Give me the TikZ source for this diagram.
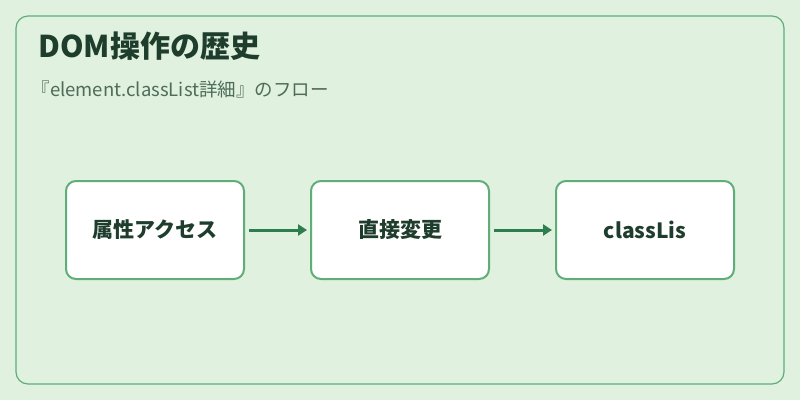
\documentclass[tikz,border=0pt]{standalone}
\usepackage{fontspec}
\setmainfont{Noto Sans CJK JP}
\usetikzlibrary{arrows.meta}
\definecolor{bg}{HTML}{E0F1DF}
\definecolor{bd}{HTML}{5FAE78}
\definecolor{ar}{HTML}{2E7D4F}
\definecolor{tt}{HTML}{1E3D2C}
\definecolor{st}{HTML}{4F6B5A}
\begin{document}
\begin{tikzpicture}[x=1pt,y=-1pt,
  stepbox/.style={draw=bd,line width=2pt,fill=white,rounded corners=10pt,minimum width=178pt,minimum height=98pt,font=\bfseries\fontsize{21}{24}\selectfont,text=tt},
  conn/.style={draw=ar,line width=3pt,-{Triangle[length=9pt,width=11pt]}}]
\fill[bg] (0,0) rectangle (800,400);
\useasboundingbox (0,0) rectangle (800,400);
\draw[bd,line width=1.2pt,rounded corners=12pt] (16,16) rectangle (784,384);
\node[anchor=west,font=\bfseries\fontsize{30}{33}\selectfont,text=tt] (title) at (35,46) {DOM操作の歴史};
\node[anchor=west,font=\fontsize{18.5}{21}\selectfont,text=st] (sub) at (28,89) {『element.classList詳細』のフロー};
\node[stepbox] (a) at (155,230) {属性アクセス};
\node[stepbox] (b) at (400,230) {直接変更};
\node[stepbox] (c) at (645,230) {classLis};
\draw[conn] ([xshift=4pt]a.east) -- ([xshift=-3pt]b.west);
\draw[conn] ([xshift=4pt]b.east) -- ([xshift=-3pt]c.west);
\end{tikzpicture}
\end{document}
